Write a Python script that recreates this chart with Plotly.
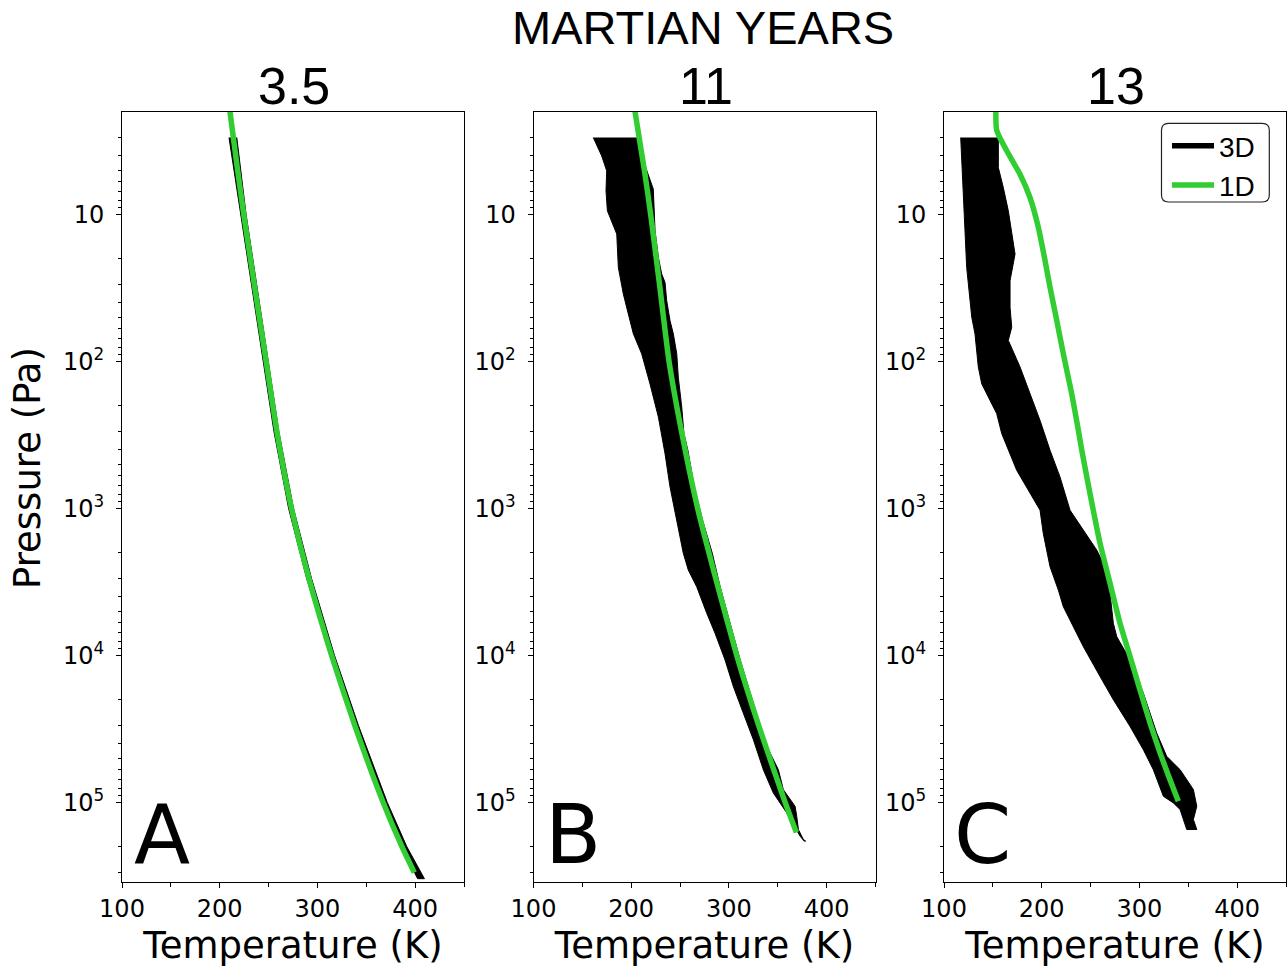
import numpy as np
import plotly.graph_objects as go

# ---------------- data ----------------
# Panel A (3.5 Martian years)
pA_1d = [1, 2, 5, 10, 30, 100, 300, 1000, 3000, 10000, 30000, 100000, 200000, 300000]
tA_1d = [204.5, 210.5, 218.3, 224.6, 235.4, 247.5, 258.5, 273.5, 291.3, 314.5, 338.3, 367.3, 386.5, 399.1]
pA_3d = [3, 10, 30, 100, 300, 1000, 3000, 10000, 30000, 100000, 200000, 330000]
tA_3d_lo = [209.5, 221.5, 232.5, 244.5, 255.5, 270.5, 289.0, 313.0, 337.0, 366.0, 386.0, 402.5]
tA_3d_hi = [217.5, 227.0, 237.5, 249.5, 260.5, 275.5, 294.0, 317.5, 342.0, 371.5, 391.5, 409.5]

# Panel B (11 Martian years)
pB_1d = [1, 2, 5, 10, 30, 100, 300, 1000, 3000, 10000, 30000, 100000, 160000]
tB_1d = [198.2, 203.9, 213.5, 219.9, 229.0, 238.7, 251.5, 268.0, 286.5, 308.0, 330.5, 357.5, 369.0]
pB_3d_lo = [3, 4, 5.05, 6.9, 9.44, 11.9, 13.6, 22.9, 34.7, 47.4, 64.9, 88.7, 142, 239, 424, 713,
            1202, 2018, 2624, 3404, 5164, 7063, 10715, 16255, 24660, 37410, 59840, 86100,
            117800, 169400, 183200]
tB_3d_lo = [161.2, 169.8, 174.9, 174.2, 175.6, 181.7, 185.2, 186.8, 191.9, 197.0, 202.2, 210.7,
            219.2, 227.8, 234.6, 239.7, 246.6, 253.3, 258.4, 267.0, 277.3, 285.8, 296.0, 304.5,
            314.7, 325.0, 335.2, 345.4, 359.2, 372.8, 377.0]
pB_3d_hi = [3, 4.3, 6.73, 9.44, 12.9, 19.6, 25.4, 29, 38.5, 52.7, 64.9, 88.7, 128, 204, 310, 402,
            713, 1202, 2018, 3404, 5164, 7063, 10715, 16255, 24660, 37410, 43750, 59840, 81850,
            106200, 124200, 152800, 178600, 183200]
tB_3d_hi = [205.6, 212.4, 222.6, 223.3, 224.4, 227.8, 231.2, 234.6, 236.3, 239.7, 243.1, 246.6,
            248.2, 251.7, 254.0, 258.0, 264.5, 273.0, 283.0, 291.0, 298.5, 304.0, 311.5, 319.5,
            328.0, 336.5, 340.4, 350.6, 355.7, 367.7, 369.4, 371.1, 376.2, 378.5]

# Panel C (13 Martian years)
pC_1d = [1, 2.67, 3.69, 5.32, 7.67, 12.2, 20.6, 31.3, 52.7, 88.7, 166, 294, 402, 791, 1730,
         3228, 6039, 10160, 17140, 28840, 46030, 69980, 98200]
tC_1d = [153.9, 153.9, 164.2, 177.8, 188.0, 196.5, 203.4, 208.5, 215.4, 222.1, 230.7, 237.5,
         241.0, 249.4, 259.7, 269.9, 280.1, 290.4, 300.6, 310.9, 321.1, 331.3, 339.8]
pC_3d_lo = [3, 8.07, 22.9, 50, 64.9, 109, 142, 184, 226, 310, 402, 550, 1028, 1479, 2489, 3589,
            4656, 6368, 8710, 13900, 20000, 30410, 43750, 59840, 77620, 90780, 100700, 111700,
            152800]
tC_3d_lo = [117.1, 119.8, 123.2, 128.4, 131.7, 135.1, 138.6, 147.1, 153.9, 159.1, 165.8, 174.4,
            198.3, 201.6, 208.5, 217.0, 222.1, 232.3, 242.6, 259.7, 273.3, 290.4, 304.0, 314.2,
            321.1, 324.5, 334.7, 341.6, 348.4]
pC_3d_hi = [3, 4.8, 6.56, 9.44, 13.6, 18.6, 28.2, 42.8, 58.5, 71.9, 109, 166, 252, 402, 610,
            1028, 1403, 1919, 2360, 3776, 6039, 7447, 10715, 18030, 33730, 48530, 59840, 81660,
            106200, 130600, 152800]
tC_3d_hi = [155.6, 155.6, 160.7, 165.8, 169.3, 172.7, 167.6, 167.6, 169.3, 165.8, 177.8, 188.0,
            198.3, 208.5, 218.7, 229.0, 242.6, 256.3, 263.1, 269.9, 273.3, 276.8, 290.4, 304.0,
            317.7, 327.9, 341.6, 355.2, 358.7, 355.2, 358.7]

panel_titles = ["3.5", "11", "13"]
panel_letters = ["A", "B", "C"]
x_ticks = [100, 200, 300, 400]
x_minor = [150, 250, 350, 450]
y_ticks = [10, 100, 1000, 10000, 100000]
y_ticktext = ["10", "10<sup>2</sup>", "10<sup>3</sup>", "10<sup>4</sup>", "10<sup>5</sup>"]

# ---------------- layout helpers ----------------
W, H = 1288, 970
def fx(x):
    return x / W
def fy(y):
    return 1 - y / H

GREEN = "#32CD32"
TICKFONT = dict(family="DejaVu Sans", size=24, color="black")
TITLEFONT = dict(family="DejaVu Sans", size=37, color="black")
ARIAL = "Liberation Sans, Arial"

panel_x = [(122, 464), (533.5, 875.5), (944, 1286)]
y_top, y_bot = 111.7, 881.7

data = [
    (pA_3d, tA_3d_lo, pA_3d, tA_3d_hi, pA_1d, tA_1d),
    (pB_3d_lo, tB_3d_lo, pB_3d_hi, tB_3d_hi, pB_1d, tB_1d),
    (pC_3d_lo, tC_3d_lo, pC_3d_hi, tC_3d_hi, pC_1d, tC_1d),
]

fig = go.Figure()
for i, (pl, tl, ph, th, p1, t1) in enumerate(data):
    xa = "x" if i == 0 else f"x{i+1}"
    ya = "y" if i == 0 else f"y{i+1}"
    fig.add_trace(go.Scatter(
        x=list(tl) + list(th)[::-1], y=list(pl) + list(ph)[::-1],
        fill="toself", fillcolor="black", mode="lines",
        line=dict(color="black", width=1), showlegend=False,
        hoverinfo="skip", xaxis=xa, yaxis=ya))
    fig.add_trace(go.Scatter(
        x=t1, y=p1, mode="lines",
        line=dict(color=GREEN, width=5.5, shape="spline", smoothing=0.5),
        showlegend=False, xaxis=xa, yaxis=ya))

# legend entries
fig.add_trace(go.Scatter(x=[None], y=[None], mode="lines", name="3D",
                         line=dict(color="black", width=5.5), xaxis="x3", yaxis="y3"))
fig.add_trace(go.Scatter(x=[None], y=[None], mode="lines", name="1D",
                         line=dict(color=GREEN, width=5.5), xaxis="x3", yaxis="y3"))

y_minor = [k * 10 ** d for d in range(0, 6) for k in range(2, 10) if 2 < k * 10 ** d < 3.46e5]

layout = dict(
    width=W, height=H, margin=dict(l=0, r=0, t=0, b=0, autoexpand=False),
    paper_bgcolor="white", plot_bgcolor="white",
    showlegend=True,
    legend=dict(x=fx(1167), y=fy(121), xanchor="left", yanchor="top",
                font=dict(family=ARIAL, size=28, color="black"),
                bgcolor="rgba(0,0,0,0)", borderwidth=0, tracegroupgap=0,
                itemwidth=42),
)
for i in range(3):
    sx = "" if i == 0 else str(i + 1)
    x0, x1 = panel_x[i]
    layout[f"xaxis{sx}"] = dict(
        domain=[fx(x0), fx(x1)], anchor=f"y{sx}", range=[100, 450], automargin=False,
        tickvals=x_ticks, ticks="outside", ticklen=5, tickwidth=1, tickcolor="black",
        showline=True, linecolor="black", linewidth=1, mirror=True,
        showgrid=False, zeroline=False, tickfont=TICKFONT,
        minor=dict(tickvals=x_minor, ticks="outside", ticklen=4, tickwidth=1,
                   tickcolor="black", showgrid=False),
        title=dict(text="Temperature (K)", font=TITLEFONT, standoff=10),
    )
    layout[f"yaxis{sx}"] = dict(
        domain=[fy(y_bot), fy(y_top)], anchor=f"x{sx}", type="log", automargin=False,
        range=[np.log10(3.46e5), np.log10(2)],
        tickvals=y_ticks, ticktext=y_ticktext,
        ticks="outside", ticklen=5, tickwidth=1, tickcolor="black",
        ticklabelstandoff=7,
        showline=True, linecolor="black", linewidth=1, mirror=True,
        showgrid=False, zeroline=False, tickfont=TICKFONT,
        minor=dict(tickvals=y_minor, ticks="outside", ticklen=3, tickwidth=1,
                   tickcolor="black", showgrid=False),
    )

fig.update_layout(**layout)

# titles
annotations = [dict(text="MARTIAN YEARS", x=fx(703), y=fy(27), xref="paper", yref="paper",
                    showarrow=False, xanchor="center", yanchor="middle",
                    font=dict(family=ARIAL, size=47, color="black"))]
centers = [(a + b) / 2 for a, b in panel_x]
for i in range(3):
    annotations.append(dict(text=panel_titles[i], x=fx(centers[i] + 1), y=fy(86),
                            xref="paper", yref="paper", showarrow=False,
                            xanchor="center", yanchor="middle",
                            font=dict(family=ARIAL, size=52, color="black")))
letter_x = [132, 543, 952]
for i in range(3):
    annotations.append(dict(text=panel_letters[i], x=fx(letter_x[i]), y=fy(884),
                            xref="paper", yref="paper", showarrow=False,
                            xanchor="left", yanchor="bottom",
                            font=dict(family="DejaVu Sans", size=82, color="black")))
# y-axis title (placed as in the reference, slightly above the axis centre)
annotations.append(dict(text="Pressure (Pa)", x=fx(27), y=fy(468), xref="paper", yref="paper",
                        showarrow=False, xanchor="center", yanchor="middle", textangle=-90,
                        font=TITLEFONT))
fig.update_layout(annotations=annotations)

# rounded legend frame
def rounded_rect(x0, y0, x1, y1, r):
    X0, X1 = fx(x0), fx(x1)
    Y0, Y1 = fy(y0), fy(y1)
    rx, ry = r / W, r / H
    return (f"M{X0+rx},{Y0} L{X1-rx},{Y0} Q{X1},{Y0} {X1},{Y0-ry} "
            f"L{X1},{Y1+ry} Q{X1},{Y1} {X1-rx},{Y1} L{X0+rx},{Y1} "
            f"Q{X0},{Y1} {X0},{Y1+ry} L{X0},{Y0-ry} Q{X0},{Y0} {X0+rx},{Y0} Z")

fig.add_shape(type="path", path=rounded_rect(1161.5, 123.3, 1269.3, 202, 7),
              xref="paper", yref="paper", line=dict(color="#222222", width=1.2),
              fillcolor="rgba(0,0,0,0)", layer="above")

fig.write_html("out.html", config={"displayModeBar": False},
               post_script="document.body.style.margin='0px';"
                           "document.body.style.padding='0px';")
